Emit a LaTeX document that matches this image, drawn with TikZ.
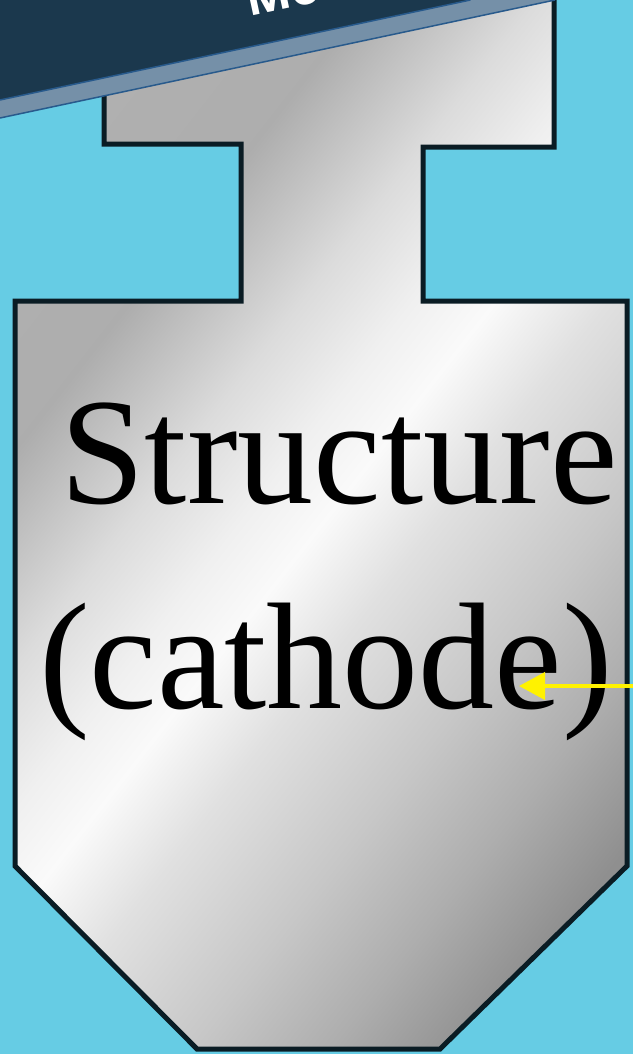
\documentclass[tikz,border=0pt]{standalone}
\usepackage{fontspec}
\setmainfont{Liberation Serif}
\newfontfamily\bannerfont{Open Sans}
\usetikzlibrary{arrows.meta}
\definecolor{sky}{RGB}{102,204,228}
\definecolor{bannerdark}{RGB}{27,56,77}
\definecolor{bannerstrip}{RGB}{117,144,168}
\definecolor{rim}{RGB}{40,90,140}
\definecolor{edgeblack}{RGB}{10,28,36}
\pgfdeclarehorizontalshading{metal}{100bp}{color(0bp)=(black!36); color(30bp)=(black!31); color(37bp)=(black!32); color(43bp)=(black!14); color(47bp)=(black!6); color(50bp)=(black!2); color(54bp)=(black!12); color(60bp)=(black!22); color(65bp)=(black!32); color(70bp)=(black!44); color(74bp)=(black!40); color(100bp)=(black!40)}

\begin{document}
\begin{tikzpicture}[x=1pt,y=-1pt,>={Triangle[length=26pt,width=27pt]},
  bigtext/.style={font=\fontsize{152}{152}\selectfont,anchor=base,inner sep=0pt}]
\useasboundingbox (0,0) rectangle (633,1054);
\fill[sky] (0,0) rectangle (633,1054);

\draw[edgeblack,line width=5pt,
  path picture={\shade[shading=metal,shading angle=-38] (-230,-23) rectangle (870,1077);}]
  (104,-10) -- (104,144) -- (241,144) -- (241,301) -- (15,301) -- (15,866)
  -- (197,1049) -- (440,1049) -- (627,866) -- (627,301) -- (423,301)
  -- (423,147) -- (554,147) -- (554,-10) -- cycle;

\fill[bannerdark] (0,-5) -- (700,-5) -- (470.4,0) -- (0,100) -- cycle;
\fill[bannerstrip] (0,100) -- (470.4,0) -- (555,0) -- (0,118) -- cycle;
\draw[rim,line width=1.5pt] (0,100) -- (470.4,0);
\draw[rim,line width=1.5pt] (0,118) -- (555,0);
\node[rotate=12,anchor=base west,inner sep=0pt,text=white,
  font=\bannerfont\bfseries\fontsize{48}{48}\selectfont] (title) at (249,17) {Mo};

\node[bigtext] (struct) at (339,503) {Structure};
\node[bigtext] (cath) at (326,708) {(cathode)};

\coordinate (src) at (633,686);
\coordinate (tip) at (519,686);
\draw[->,yellow,line width=4pt] (src) -- (tip);
\end{tikzpicture}
\end{document}
